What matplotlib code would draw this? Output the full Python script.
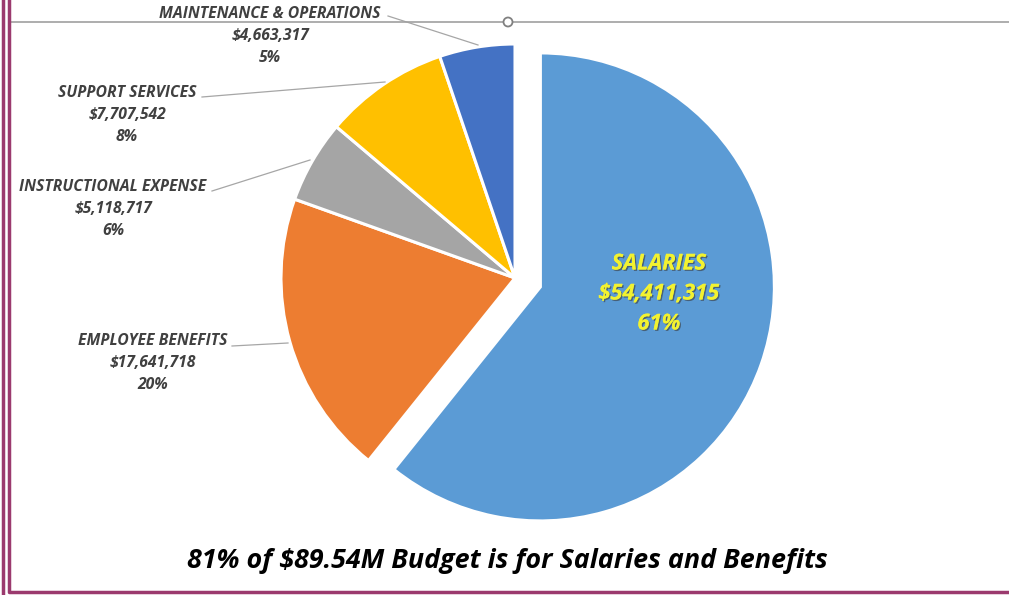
import matplotlib
matplotlib.use("Agg")
import matplotlib.pyplot as plt
from matplotlib.patches import Circle
import matplotlib.patheffects as pe

categories = ["SALARIES", "EMPLOYEE BENEFITS", "INSTRUCTIONAL EXPENSE",
              "SUPPORT SERVICES", "MAINTENANCE & OPERATIONS"]
values = [54411315, 17641718, 5118717, 7707542, 4663317]
percent_labels = ["61%", "20%", "6%", "8%", "5%"]
colors = ["#5B9BD5", "#ED7D31", "#A5A5A5", "#FFC000", "#4472C4"]
title = "81% of $89.54M Budget is for Salaries and Benefits"

W, H = 1009, 595
fig = plt.figure(figsize=(W / 100, H / 100), dpi=100)
ax = fig.add_axes([0, 0, 1, 1])

def Y(py):
    return H - py

cx, cy, r = 515, 278, 234
explode = [0.115 * r, 0, 0, 0, 0]
wedges, _ = ax.pie(values, colors=colors, startangle=90, counterclock=False,
                   center=(cx, Y(cy)), radius=r, explode=explode,
                   wedgeprops=dict(edgecolor="white", linewidth=2.2),
                   frame=True)
ax.set_xlim(0, W)
ax.set_ylim(0, H)
ax.set_axis_off()

fam = ["Open Sans", "DejaVu Sans"]
lab_color = "#404040"

def money(v):
    return "${:,}".format(v)

label_pos = {
    4: (270, 14, (388, 16), (478, 45)),
    3: (127, 93, (202, 97), (385, 82)),
    2: (113, 187, (212, 191), (310, 160)),
    1: (153, 341, (232, 346), (288, 343)),
}
for i, (tx, ty, p0, p1) in label_pos.items():
    lines = [categories[i], money(values[i]), percent_labels[i]]
    for k, s in enumerate(lines):
        ax.text(tx, Y(ty + k * 22), s, ha="center", va="center",
                fontsize=11.3, fontweight="bold", fontstyle="italic",
                color=lab_color, family=fam)
    ax.plot([p0[0], p1[0]], [Y(p0[1]), Y(p1[1])], color="#a6a6a6", lw=0.9)

sal_lines = [categories[0], money(values[0]), percent_labels[0]]
for k, s in enumerate(sal_lines):
    ax.text(659, Y(264 + k * 30), s, ha="center", va="center",
            fontsize=15.8, fontweight="bold", fontstyle="italic",
            color="#F2F230", family=fam,
            path_effects=[pe.withSimplePatchShadow(offset=(1, -1), shadow_rgbFace="#3a3a3a", alpha=0.6),
                          pe.Normal()])

ax.text(507, Y(561), title, ha="center", va="center", fontsize=19.4,
        fontweight="bold", fontstyle="italic", color="black", family=fam)

ax.plot([10, W], [Y(22), Y(22)], color="#a0a0a0", lw=1.2)
ax.add_patch(Circle((508, Y(22)), 4.5, facecolor="white", edgecolor="#808080", lw=1.3, zorder=5))
border = "#9B3A6E"
ax.plot([3, 3], [0, H], color=border, lw=2.5)
ax.plot([8.5, 8.5, W], [H, Y(592), Y(592)], color=border, lw=2.5)

fig.savefig("out.png", dpi=100)
